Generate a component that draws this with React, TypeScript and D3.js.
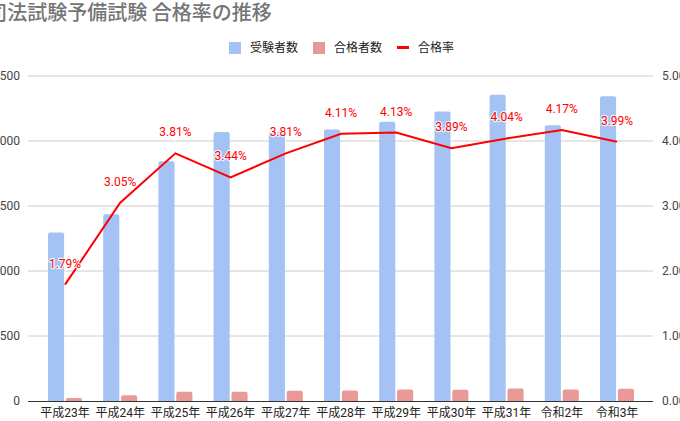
import React from "react";
import * as d3 from "d3";

const categories = ["平成23年", "平成24年", "平成25年", "平成26年", "平成27年", "平成28年", "平成29年", "平成30年", "平成31年", "令和2年", "令和3年"];
const examinees = [6477, 7183, 9224, 10347, 10334, 10442, 10743, 11136, 11780, 10608, 11717];
const passers = [116, 219, 351, 356, 394, 405, 444, 433, 476, 442, 467];
const passRate = [1.79, 3.05, 3.81, 3.44, 3.81, 4.11, 4.13, 3.89, 4.04, 4.17, 3.99];
const leftTicks = [0, 2500, 5000, 7500, 10000, 12500];
const rightTicks = [0, 1, 2, 3, 4, 5];
const seriesNames = ["受験者数", "合格者数", "合格率"];
const title = "司法試験予備試験 合格率の推移";

const W = 680, H = 421;
const FONT = "Roboto, 'Noto Sans CJK JP', sans-serif";
const BLUE = "#a4c2f4", PINK = "#ea9999", RED = "#ff0000";

function topRoundedRect(x: number, y: number, w: number, h: number, r: number) {
  const rr = Math.min(r, h, w / 2);
  const p = d3.path();
  p.moveTo(x, y + h);
  p.lineTo(x, y + rr);
  p.arcTo(x, y, x + rr, y, rr);
  p.lineTo(x + w - rr, y);
  p.arcTo(x + w, y, x + w, y + rr, rr);
  p.lineTo(x + w, y + h);
  p.closePath();
  return p.toString();
}

export default function App() {
  const x = d3.scaleBand<string>().domain(categories).range([37.4, 644.6]).padding(0);
  const inner = d3.scaleBand<number>().domain([0, 1]).range([-17, 17]).paddingInner(0.1);
  const yL = d3.scaleLinear().domain([0, 12500]).range([401, 76]);
  const yR = d3.scaleLinear().domain([0, 5]).range([401, 76]);
  const cx = (c: string) => (x(c) as number) + x.bandwidth() / 2;

  const line = d3.line<number>()
    .x((_, i) => cx(categories[i]))
    .y((d) => yR(d));

  return (
    <div style={{ position: "absolute", left: 0, top: 0 }}>
      <svg width={W} height={H} style={{ display: "block", fontFamily: FONT }}>
        <rect width={W} height={H} fill="#fff" />
        <text x={-12.7} y={19.5} fontSize={20} fill="#757575" fontWeight={500} fontFamily="'Noto Sans CJK JP', sans-serif">{title}</text>

        {/* legend */}
        <g fontSize={12} fill="#222">
          <rect x={229} y={42} width={12} height={12} fill={BLUE} />
          <text x={250} y={52}>{seriesNames[0]}</text>
          <rect x={313} y={42} width={12} height={12} fill={PINK} />
          <text x={334} y={52}>{seriesNames[1]}</text>
          <rect x={397} y={46} width={12} height={3} fill={RED} />
          <text x={418} y={52}>{seriesNames[2]}</text>
        </g>

        {/* gridlines */}
        {leftTicks.slice(1).map((t) => (
          <line key={t} x1={28} x2={653} y1={yL(t)} y2={yL(t)} stroke="#cccccc" strokeWidth={1} />
        ))}

        {/* left axis labels */}
        {leftTicks.map((t) => (
          <text key={t} x={20} y={yL(t) + 4} fontSize={12} fill="#444" textAnchor="end">{String(t)}</text>
        ))}
        {/* right axis labels */}
        {rightTicks.map((t) => (
          <text key={t} x={662} y={yR(t) + 4} fontSize={12} fill="#444" textAnchor="start">{t.toFixed(2) + "%"}</text>
        ))}

        {/* bars */}
        {categories.map((c, i) => {
          const c0 = cx(c);
          const bw = inner.bandwidth();
          const bx0 = c0 + (inner(0) as number);
          const bx1 = c0 + (inner(1) as number);
          return (
            <g key={c}>
              <path d={topRoundedRect(bx0, yL(examinees[i]), bw, yL(0) - yL(examinees[i]), 2)} fill={BLUE} />
              <path d={topRoundedRect(bx1, yL(passers[i]), bw, yL(0) - yL(passers[i]), 2)} fill={PINK} />
            </g>
          );
        })}

        {/* baseline */}
        <line x1={28} x2={653} y1={401.5} y2={401.5} stroke="#333" strokeWidth={1} />

        {/* stems */}
        {categories.map((c, i) => (
          <line key={c} x1={cx(c)} x2={cx(c)} y1={yR(passRate[i]) - 2} y2={yR(passRate[i]) - 15} stroke="#ffffff" strokeOpacity={0.8} strokeWidth={1} />
        ))}

        {/* line */}
        <path d={line(passRate) as string} fill="none" stroke={RED} strokeWidth={2} />

        {/* annotations */}
        {categories.map((c, i) => (
          <text key={c} x={cx(c)} y={yR(passRate[i]) - 17} fontSize={12} fill={RED} textAnchor="middle"
            stroke="#fff" strokeWidth={2.5} strokeOpacity={0.8} paintOrder="stroke" strokeLinejoin="round">
            {passRate[i].toFixed(2) + "%"}
          </text>
        ))}

        {/* x axis labels */}
        {categories.map((c) => (
          <text key={c} x={cx(c)} y={417} fontSize={12} fill="#222" textAnchor="middle">{c}</text>
        ))}
      </svg>
    </div>
  );
}
